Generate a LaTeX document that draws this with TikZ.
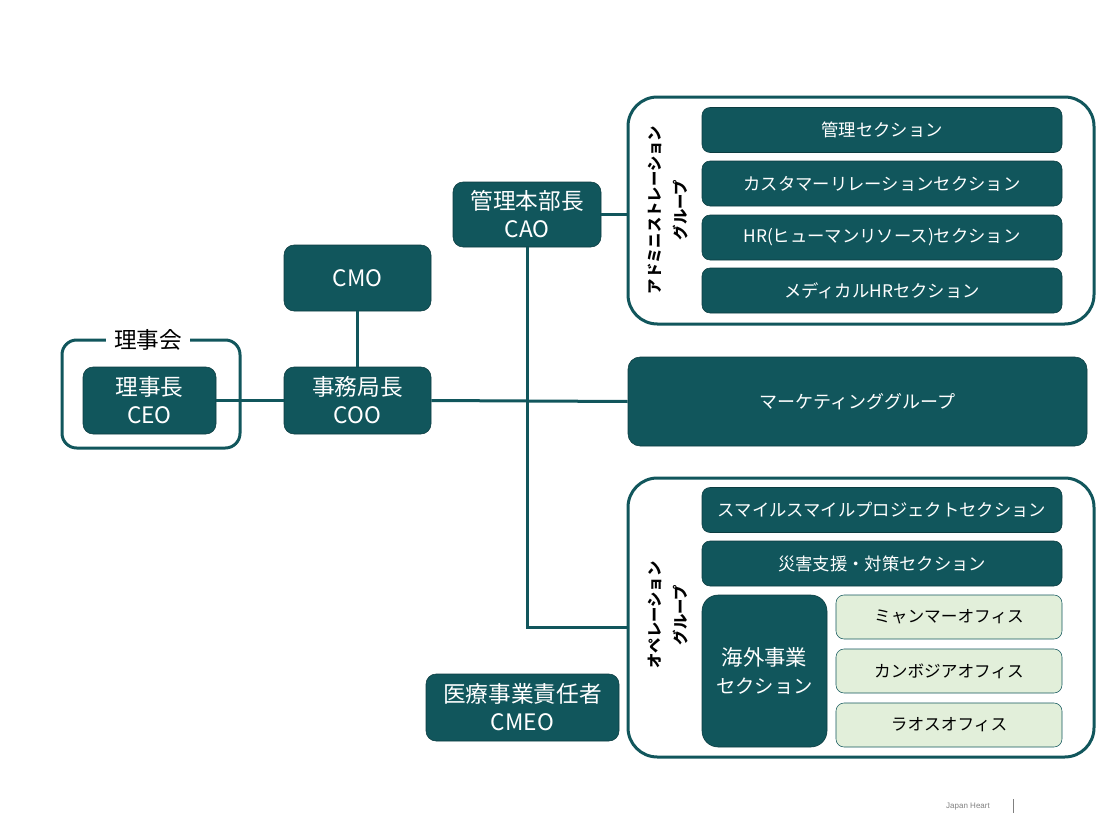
\documentclass[tikz,border=0pt]{standalone}
\usepackage{fontspec}
\setmainfont{Noto Sans CJK JP}
\newfontfamily\footfont{Liberation Sans}
\usetikzlibrary{positioning, calc}
\definecolor{jhteal}{RGB}{17,86,92}
\definecolor{jhedge}{RGB}{12,60,64}
\definecolor{jhlight}{RGB}{226,239,218}

\begin{document}
\begin{tikzpicture}[
    x=0.75pt, y=-0.75pt,
    officer/.style={draw=jhedge, fill=jhteal, text=white, rounded corners=7.5pt,
        align=center, inner sep=0pt, font=\fontsize{17}{21}\selectfont},
    section/.style={officer, minimum width=270pt, minimum height=33.75pt,
        rounded corners=6pt, font=\fontsize{13}{16}\selectfont},
    office/.style={section, fill=jhlight, draw=jhteal, text=black,
        minimum width=169.5pt, minimum height=33pt, font=\fontsize{12.5}{15}\selectfont},
    group/.style={draw=jhteal, line width=2.25pt, rounded corners=22pt, inner sep=0pt},
    grouplabel/.style={rotate=90, align=center, inner sep=0pt,
        font=\bfseries\fontsize{11.5}{19}\selectfont},
    link/.style={draw=jhteal, line width=2.25pt}
]
    \useasboundingbox (0,0) rectangle (1114,835);

    % groups
    \node[group, rounded corners=11pt, minimum width=133.5pt, minimum height=81pt] (board) at (151,394) {};
    \node[fill=white, inner xsep=6pt, inner ysep=2pt, font=\fontsize{17}{20}\selectfont] (boardlabel) at (148,340) {理事会};
    \node[group, minimum width=349.5pt, minimum height=170.25pt] (admin) at (861,210.5) {};
    \node[group, minimum width=349.5pt, minimum height=209.25pt] (ops) at (861,617.5) {};
    \node[grouplabel] (adminlabel) at (668,210) {アドミニストレーション\\グループ};
    \node[grouplabel] (opslabel) at (668,615) {オペレーション\\グループ};

    % officers
    \node[officer, minimum width=99.75pt, minimum height=50.25pt] (CEO) at (149.5,400.5) {理事長\\CEO};
    \node[officer, minimum width=110.25pt, minimum height=50.25pt] (COO) at (357.5,400.5) {事務局長\\COO};
    \node[officer, minimum width=110.25pt, minimum height=49.5pt] (CMO) at (357.5,278) {CMO};
    \node[officer, minimum width=111pt, minimum height=48.75pt] (CAO) at (527,214.5) {管理本部長\\CAO};
    \node[officer, minimum width=144.75pt, minimum height=50.25pt] (CMEO) at (522.5,707.5) {医療事業責任者\\CMEO};
    \node[officer, rounded corners=9pt, minimum width=344.25pt, minimum height=66.75pt,
        font=\fontsize{13.5}{16}\selectfont] (marketing) at (857.5,401.5) {マーケティンググループ};

    % sections
    \node[section] (kanri) at (882,130) {管理セクション};
    \node[section] (customer) at (882,183.5) {カスタマーリレーションセクション};
    \node[section] (hr) at (882,237.5) {HR(ヒューマンリソース)セクション};
    \node[section] (medhr) at (882,290.5) {メディカルHRセクション};
    \node[section] (smile) at (882,510) {スマイルスマイルプロジェクトセクション};
    \node[section] (disaster) at (882,563.5) {災害支援・対策セクション};
    \node[officer, rounded corners=12pt, minimum width=93.75pt, minimum height=114pt,
        font=\fontsize{16}{21}\selectfont] (overseas) at (764.5,671) {海外事業\\{\fontsize{14.5}{21}\selectfont セクション}};
    \node[office] (myanmar) at (949,617) {ミャンマーオフィス};
    \node[office] (cambodia) at (949,671) {カンボジアオフィス};
    \node[office] (laos) at (949,725) {ラオスオフィス};

    % connectors
    \coordinate (opsin) at (628,627);
    \draw[link] (CEO.east) -- (COO.west);
    \draw[link] (CMO.south) -- (COO.north);
    \draw[link] (COO.east) -- (marketing.west);
    \draw[link] (CAO.east) -- (CAO.east -| admin.west);
    \draw[link] (CAO.south) |- (opsin);

    % footer
    \node[text=gray, font=\footfont\fontsize{6}{7}\selectfont] (footer) at (968,807) {Japan Heart};
    \draw[gray, line width=0.6pt] (1013,799) -- (1013,813);
\end{tikzpicture}
\end{document}
